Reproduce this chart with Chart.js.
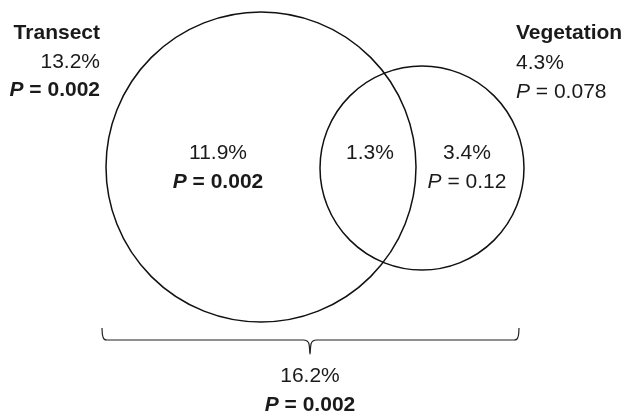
<!DOCTYPE html>
<html>
<head>
<meta charset="utf-8">
<script src="https://cdn.jsdelivr.net/npm/chart.js@4/dist/chart.umd.min.js"></script>
<style>
  body { margin: 0; background: #fff; }
  canvas { display: block; }
</style>
</head>
<body>
<canvas id="venn" width="628" height="418"></canvas>
<script>
// variance partitioning values
var setNames = ['Transect', 'Vegetation'];
var totalPct = ['13.2%', '4.3%'];
var totalP = [0.002, 0.078];
var uniquePct = ['11.9%', '3.4%'];
var uniqueP = [0.002, 0.12];
var sharedPct = '1.3%';
var overallPct = '16.2%';
var overallP = 0.002;

// circles (drawing units = canvas pixels)
var circleX = [261, 422];
var circleY = [167, 168];
var circleR = [155, 102];

// bracket under both circles
var bracketX = [102, 102.5, 104, 107, 303, 307, 309, 310, 311, 313, 317, 514, 517, 518.5, 519];
var bracketY = [328, 335, 339, 340, 340, 341, 344, 354, 344, 341, 340, 340, 339, 335, 328];

var textColor = '#1a1a1a';
var fontFamily = '"Liberation Sans", Arial, sans-serif';

function fmtP(p) {
    return String(p);
}

// "P = value" with italic P, bold when significant
function drawP(ctx, x, y, p, align) {
    var bold = p < 0.05 ? 'bold ' : '';
    var pFont = 'italic ' + bold + '21px ' + fontFamily;
    var restFont = bold + '21px ' + fontFamily;
    var rest = ' = ' + fmtP(p);
    ctx.font = pFont;
    var w1 = ctx.measureText('P').width;
    ctx.font = restFont;
    var w2 = ctx.measureText(rest).width;
    var x0 = x;
    if (align === 'right') x0 = x - w1 - w2;
    if (align === 'center') x0 = x - (w1 + w2) / 2;
    ctx.textAlign = 'left';
    ctx.font = pFont;
    ctx.fillText('P', x0, y);
    ctx.font = restFont;
    ctx.fillText(rest, x0 + w1, y);
}

function drawText(ctx, txt, x, y, align, bold) {
    ctx.font = (bold ? 'bold ' : '') + '21px ' + fontFamily;
    ctx.textAlign = align;
    ctx.fillText(txt, x, y);
}

var labelPlugin = {
    id: 'vennLabels',
    afterDatasetsDraw: function (chart) {
        var ctx = chart.ctx;
        var sx = chart.scales.x, sy = chart.scales.y;
        var px = function (v) { return sx.getPixelForValue(v); };
        var py = function (v) { return sy.getPixelForValue(v); };
        ctx.save();
        ctx.fillStyle = textColor;
        ctx.textBaseline = 'middle';

        // set totals outside the circles
        drawText(ctx, setNames[0], px(100), py(33), 'right', true);
        drawText(ctx, totalPct[0], px(100), py(62), 'right', false);
        drawP(ctx, px(100), py(90), totalP[0], 'right');

        drawText(ctx, setNames[1], px(516), py(33), 'left', true);
        drawText(ctx, totalPct[1], px(516), py(63), 'left', false);
        drawP(ctx, px(516), py(92), totalP[1], 'left');

        // unique fractions
        drawText(ctx, uniquePct[0], px(218), py(153), 'center', false);
        drawP(ctx, px(218), py(182), uniqueP[0], 'center');
        drawText(ctx, uniquePct[1], px(467), py(153), 'center', false);
        drawP(ctx, px(467), py(182), uniqueP[1], 'center');

        // shared fraction
        drawText(ctx, sharedPct, px(370), py(153), 'center', false);

        // total explained
        drawText(ctx, overallPct, px(310), py(376), 'center', false);
        drawP(ctx, px(310), py(405), overallP, 'center');
        ctx.restore();
    }
};

var circleData = circleX.map(function (x, i) {
    return { x: x, y: circleY[i], r: circleR[i] };
});
var bracketData = bracketX.map(function (x, i) {
    return { x: x, y: bracketY[i] };
});

var ctx = document.getElementById('venn').getContext('2d');
var chart = new Chart(ctx, {
    type: 'scatter',
    data: {
        datasets: [{
            type: 'bubble',
            data: circleData,
            backgroundColor: 'rgba(0,0,0,0)',
            borderColor: '#111',
            borderWidth: 1.5,
            hoverRadius: 0,
            clip: false
        }, {
            data: bracketData,
            showLine: true,
            borderColor: '#222',
            borderWidth: 1.2,
            pointRadius: 0,
            tension: 0.3,
            clip: false
        }]
    },
    options: {
        responsive: false,
        devicePixelRatio: 1,
        animation: false,
        events: [],
        layout: { padding: 0, autoPadding: false },
        plugins: {
            legend: { display: false },
            tooltip: { enabled: false }
        },
        scales: {
            x: { type: 'linear', min: 0, max: 628, display: false },
            y: { type: 'linear', min: 0, max: 418, reverse: true, display: false }
        }
    },
    plugins: [labelPlugin]
});
</script>
</body>
</html>
